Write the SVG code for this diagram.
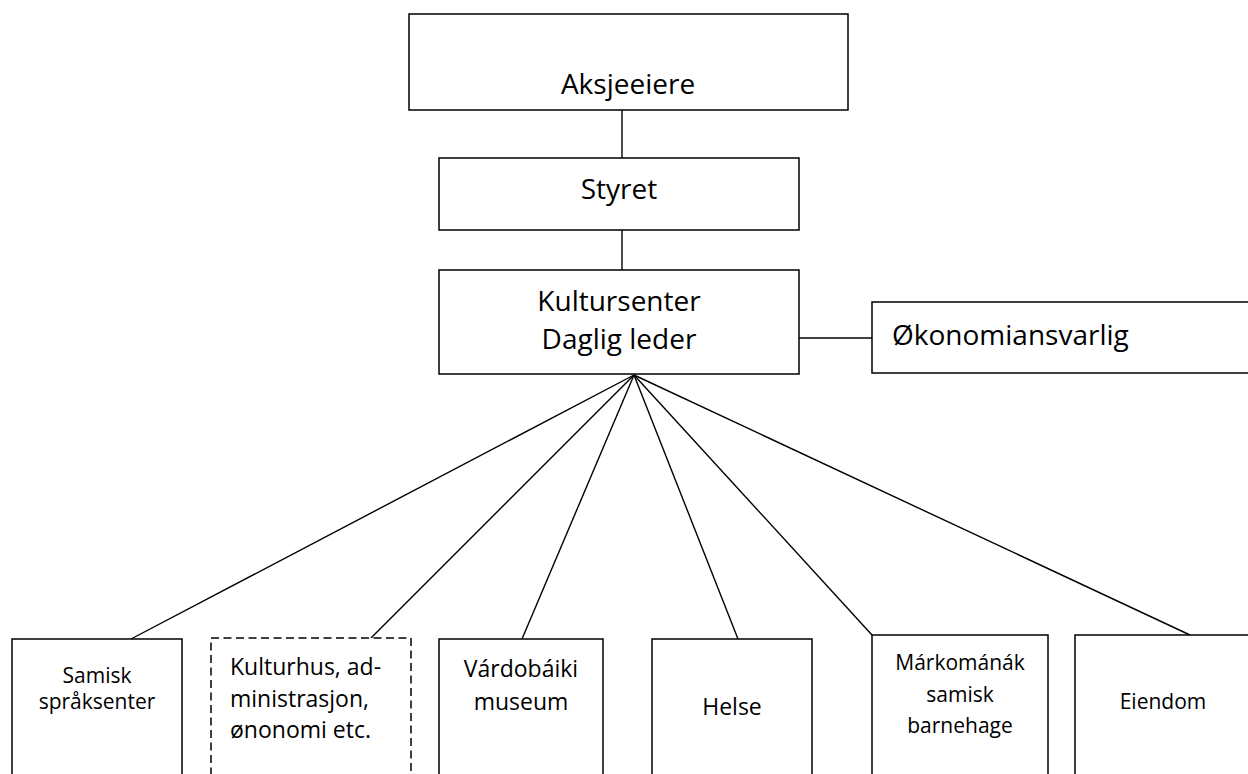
<svg xmlns="http://www.w3.org/2000/svg" width="1248" height="774" viewBox="0 0 1248 774">
<style>
.box{fill:#fff;stroke:#000;stroke-width:1.5}
.dash{fill:#fff;stroke:#000;stroke-width:1.5;stroke-dasharray:8 4.5}
.con line{stroke:#000;stroke-width:1.4}
text{font-family:"Open Sans","Liberation Sans",sans-serif;fill:#000}
.big{font-size:28px}
.mid{font-size:23px}
.sm{font-size:21px}
.c{text-anchor:middle}
</style>
<rect width="1248" height="774" fill="#fff"/>
<g id="connectors" class="con">
<line x1="622" y1="110" x2="622" y2="158"/>
<line x1="622" y1="230" x2="622" y2="270"/>
<line x1="799" y1="338" x2="872" y2="338"/>
<line x1="634" y1="375" x2="131" y2="639"/>
<line x1="634" y1="375" x2="371" y2="638"/>
<line x1="634" y1="375" x2="522" y2="639"/>
<line x1="634" y1="375" x2="738" y2="639"/>
<line x1="634" y1="375" x2="872" y2="635"/>
<line x1="634" y1="375" x2="1190" y2="635"/>
</g>
<g id="aksjeeiere">
<rect class="box" x="409" y="14" width="439" height="96"/>
<text class="big c" x="628" y="94">Aksjeeiere</text>
</g>
<g id="styret">
<rect class="box" x="439" y="158" width="360" height="72"/>
<text class="big c" x="619" y="199">Styret</text>
</g>
<g id="kultursenter">
<rect class="box" x="439" y="270" width="360" height="104"/>
<text class="big c" x="619" y="311">Kultursenter</text>
<text class="big c" x="619" y="349">Daglig leder</text>
</g>
<g id="okonomi">
<rect class="box" x="872" y="302" width="390" height="71"/>
<text class="big" x="892" y="345">Økonomiansvarlig</text>
</g>
<g id="samisk">
<rect class="box" x="12" y="639" width="170" height="150"/>
<text class="sm c" x="97" y="683">Samisk</text>
<text class="sm c" x="97" y="709">språksenter</text>
</g>
<g id="kulturhus">
<rect class="dash" x="211" y="638" width="200" height="150"/>
<text class="mid" x="230" y="675">Kulturhus, ad-</text>
<text class="mid" x="230" y="707">ministrasjon,</text>
<text class="mid" x="230" y="738">ønonomi etc.</text>
</g>
<g id="vardobaiki">
<rect class="box" x="439" y="639" width="164" height="150"/>
<text class="mid c" x="521" y="677">Várdobáiki</text>
<text class="mid c" x="521" y="710">museum</text>
</g>
<g id="helse">
<rect class="box" x="652" y="639" width="160" height="150"/>
<text class="mid c" x="732" y="715">Helse</text>
</g>
<g id="markomanak">
<rect class="box" x="872" y="635" width="176" height="150"/>
<text class="sm c" x="960" y="670">Márkománák</text>
<text class="sm c" x="960" y="702">samisk</text>
<text class="sm c" x="960" y="733">barnehage</text>
</g>
<g id="eiendom">
<rect class="box" x="1075" y="635" width="190" height="150"/>
<text class="sm c" x="1163" y="709">Eiendom</text>
</g>
</svg>
